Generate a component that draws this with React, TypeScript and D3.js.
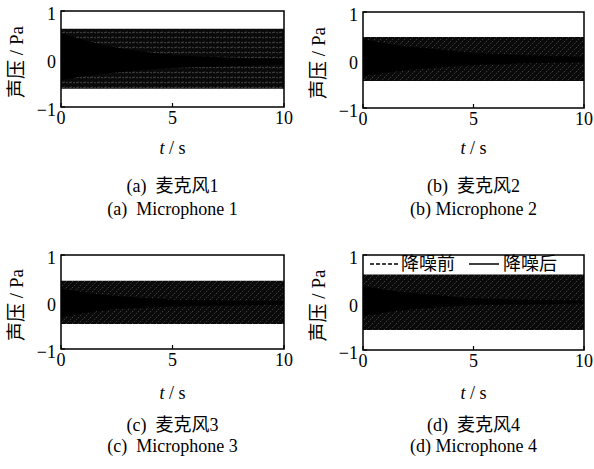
import React from 'react';
import * as d3 from 'd3';

// envelope sample times (s)
const times = [0, 0.5, 1, 2, 3, 5, 7.5, 10];

// before noise reduction: steady envelope per microphone
const beforeUpper = [0.63, 0.48, 0.45, 0.59];
const beforeLower = [-0.62, -0.44, -0.47, -0.58];

// after noise reduction: decaying envelope per microphone
const afterUpper = [
  [0.54, 0.47, 0.4, 0.28, 0.2, 0.09, 0.03, 0.0],
  [0.43, 0.39, 0.35, 0.28, 0.24, 0.15, 0.1, 0.07],
  [0.28, 0.25, 0.21, 0.15, 0.11, 0.05, 0.03, 0.02],
  [0.34, 0.31, 0.27, 0.21, 0.17, 0.09, 0.06, 0.05],
];
const afterLower = [
  [-0.44, -0.4, -0.36, -0.3, -0.26, -0.19, -0.15, -0.11],
  [-0.33, -0.3, -0.27, -0.21, -0.17, -0.11, -0.07, -0.04],
  [-0.32, -0.28, -0.24, -0.17, -0.14, -0.1, -0.08, -0.06],
  [-0.28, -0.25, -0.21, -0.15, -0.12, -0.06, -0.04, -0.02],
];

const xTicks = [0, 5, 10];
const yTicks = [-1, 0, 1];
const captionsZh = ['(a)  麦克风1', '(b)  麦克风2', '(c)  麦克风3', '(d)  麦克风4'];
const captionsEn = ['(a)  Microphone 1', '(b) Microphone 2', '(c)  Microphone 3', '(d) Microphone 4'];
const legendLabels = ['降噪前', '降噪后'];

const boxes = [
  { x0: 61, x1: 284, y0: 11, y1: 107 },
  { x0: 363, x1: 584, y0: 12, y1: 108 },
  { x0: 61, x1: 284, y0: 255, y1: 349 },
  { x0: 363, x1: 584, y0: 255, y1: 350 },
];

const FONT = "'Liberation Serif', 'Times New Roman', 'Noto Sans CJK SC', serif";
const CJK = "'Noto Sans CJK SC', sans-serif";

const Panel = ({ i }: { i: number }) => {
  const b = boxes[i];
  const x = d3.scaleLinear().domain([0, 10]).range([b.x0, b.x1]);
  const y = d3.scaleLinear().domain([-1, 1]).range([b.y1, b.y0]);
  const cx = (b.x0 + b.x1) / 2;
  const cy = (b.y0 + b.y1) / 2;

  const before = times.map((t) => ({ t, hi: beforeUpper[i], lo: beforeLower[i] }));
  const after = times.map((t, k) => ({ t, hi: afterUpper[i][k], lo: afterLower[i][k] }));
  const area = d3
    .area<{ t: number; hi: number; lo: number }>()
    .x((d) => x(d.t))
    .y0((d) => y(d.lo))
    .y1((d) => y(d.hi))
    .curve(d3.curveMonotoneX);

  const pat = i === 0 ? 'hatchH' : 'hatchD';
  const capY = i < 2 ? [148, 186, 209] : [393, 425, 446];

  return (
    <g fill="#000">
      <path d={area(before) || ''} fill={`url(#${pat})`} />
      <path d={area(after) || ''} fill="#000" />
      <rect x={b.x0} y={b.y0} width={b.x1 - b.x0} height={b.y1 - b.y0} fill="none" stroke="#000" strokeWidth={1.5} />
      {xTicks.map((t) => (
        <g key={'x' + t}>
          <line x1={x(t)} x2={x(t)} y1={b.y1} y2={b.y1 - 4} stroke="#000" strokeWidth={1.2} />
          <text x={x(t)} y={b.y1 + 17} textAnchor="middle" fontSize={18} fontFamily={FONT}>
            {t}
          </text>
        </g>
      ))}
      {yTicks.map((t) => (
        <g key={'y' + t}>
          <line x1={b.x0} x2={b.x0 + 4} y1={y(t)} y2={y(t)} stroke="#000" strokeWidth={1.2} />
          <text x={b.x0 - 5} y={y(t) + 9} textAnchor="end" fontSize={18} fontFamily={FONT}>
            {t < 0 ? '\u2212' + Math.abs(t) : t}
          </text>
        </g>
      ))}
      <text
        transform={`translate(${b.x0 - 38},${cy + 3}) rotate(-90)`}
        textAnchor="middle"
        fontSize={19}
        fontFamily={FONT}
      >
        <tspan fontFamily={CJK}>声压</tspan> / Pa
      </text>
      <text x={cx} y={capY[0] + 6} textAnchor="middle" fontSize={18} fontFamily={FONT}>
        <tspan fontStyle="italic">t</tspan> / s
      </text>
      <text x={cx} y={capY[1] + 6} textAnchor="middle" fontSize={18} fontFamily={FONT} xmlSpace="preserve">
        {captionsZh[i]}
      </text>
      <text x={cx} y={capY[2] + 6} textAnchor="middle" fontSize={18} fontFamily={FONT} xmlSpace="preserve">
        {captionsEn[i]}
      </text>
      {i === 3 && (
        <g fontFamily={CJK} fontSize={18} fill="#000">
          <line x1={370} x2={400} y1={264} y2={264} stroke="#000" strokeWidth={1.5} strokeDasharray="4 2" />
          <text x={401} y={270}>{legendLabels[0]}</text>
          <line x1={469} x2={499} y1={264} y2={264} stroke="#000" strokeWidth={1.5} />
          <text x={503} y={270}>{legendLabels[1]}</text>
        </g>
      )}
    </g>
  );
};

export default function App() {
  return (
    <svg width={594} height={469} style={{ position: 'absolute', left: 0, top: 0, background: '#fff' }}>
      <defs>
        <pattern id="hatchH" width={7} height={5} patternUnits="userSpaceOnUse">
          <rect width={7} height={5} fill="#0a0a0a" />
          <path d="M0 2.5 Q1.75 1.7 3.5 2.5 T7 2.5" stroke="#666" strokeWidth={0.7} fill="none" strokeDasharray="2 1" />
        </pattern>
        <pattern id="hatchD" width={6} height={6} patternUnits="userSpaceOnUse">
          <rect width={6} height={6} fill="#0a0a0a" />
          <path d="M0 6 L6 0" stroke="#5a5a5a" strokeWidth={0.7} strokeDasharray="1.5 1.5" />
        </pattern>
      </defs>
      {boxes.map((_, i) => (
        <Panel key={i} i={i} />
      ))}
    </svg>
  );
}
